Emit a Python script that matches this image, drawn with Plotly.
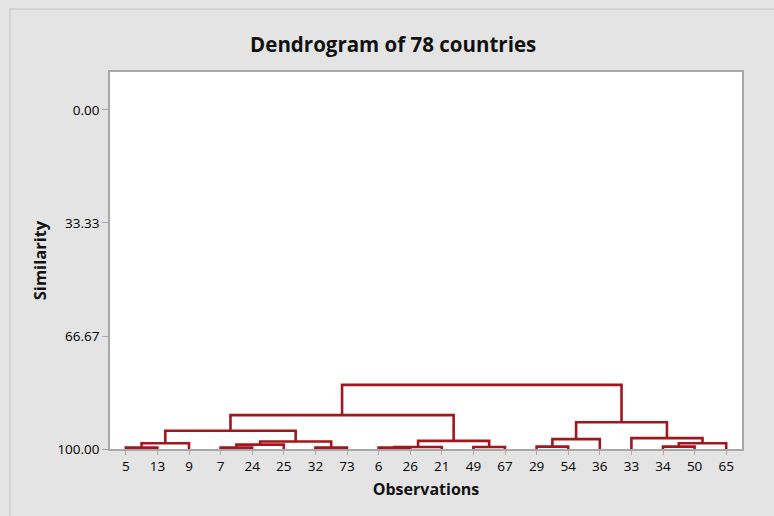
import plotly.graph_objects as go

# Leaves in display order (observation numbers)
leaves = [5, 13, 9, 7, 24, 25, 32, 73, 6, 26, 21, 49, 67, 29, 54, 36, 33, 34, 50, 65]

# Merge steps: (cluster_a, cluster_b, similarity); clusters are observation numbers
# or "cN" ids referring to the N-th merge result (0-based)
merge_a = [5, "c0", 7, "c2", 32, "c3", "c1", 6, "c7", 49, "c8", "c6", 29, "c12", 34, "c14", 33, "c13", "c11"]
merge_b = [13, 9, 24, 25, 73, "c4", "c5", 26, 21, 67, "c9", "c10", 54, 36, 50, 65, "c15", "c16", "c17"]
merge_sim = [99.6, 98.3, 99.6, 98.7, 99.6, 97.8, 94.6, 99.6, 99.4, 99.4, 97.6, 90.0,
             99.3, 97.1, 99.3, 98.3, 96.8, 92.1, 81.1]

y_ticks = [0.0, 33.33, 66.67, 100.0]
y_tick_labels = ["0.00", "33.33", "66.67", "100.00"]

line_color = "#A3161D"

pos = {}
height = {}
for i, leaf in enumerate(leaves):
    pos[leaf] = i
    height[leaf] = 100.0

xs, ys = [], []
for k, (a, b, s) in enumerate(zip(merge_a, merge_b, merge_sim)):
    xa, xb = pos[a], pos[b]
    ha, hb = height[a], height[b]
    xs += [xa, xa, xb, xb, None]
    ys += [ha, s, s, hb, None]
    cid = f"c{k}"
    pos[cid] = (xa + xb) / 2
    height[cid] = s

fig = go.Figure()
fig.add_trace(go.Scatter(x=xs, y=ys, mode="lines",
                         line=dict(color=line_color, width=2.6),
                         hoverinfo="skip", showlegend=False))

font_family = "Open Sans, Noto Sans, sans-serif"
fig.update_layout(
    width=774, height=516,
    margin=dict(l=110, r=32, t=72, b=67),
    paper_bgcolor="#E4E4E4",
    plot_bgcolor="#FFFFFF",
    font=dict(family=font_family, color="#000000", size=13),
    title=dict(text="<b>Dendrogram of 78 countries</b>", x=0.508, xanchor="center",
               y=0.913, yanchor="middle", font=dict(size=20.5, color="#111111")),
    xaxis=dict(
        range=[-0.5, len(leaves) - 0.5],
        tickmode="array", tickvals=list(range(len(leaves))),
        ticktext=[str(v) for v in leaves],
        showgrid=False, zeroline=False,
        showline=True, linecolor="#A8A8A8", linewidth=1.5, mirror=True,
        ticks="outside", ticklen=4, tickcolor="#A8A8A8",
        tickfont=dict(size=13.5, color="#000000"),
        title=dict(text="<b>Observations</b>", font=dict(size=16, color="#111111"), standoff=10),
    ),
    yaxis=dict(
        range=[100, -11.2],
        tickmode="array", tickvals=y_ticks, ticktext=y_tick_labels,
        showgrid=False, zeroline=False,
        showline=True, linecolor="#A8A8A8", linewidth=1.5, mirror=True,
        ticks="outside", ticklen=6, tickcolor="#A8A8A8",
        tickfont=dict(size=13.5, color="#000000"),
        title=dict(text="<b>Similarity</b>", font=dict(size=16.5, color="#111111"), standoff=7),
    ),
    shapes=[
        dict(type="line", xref="paper", yref="paper",
             x0=-0.1582, x1=1.2, y0=1.167, y1=1.167,
             line=dict(color="#CFCFCF", width=1.5)),
        dict(type="line", xref="paper", yref="paper",
             x0=-0.1582, x1=-0.1582, y0=1.167, y1=-0.3,
             line=dict(color="#CFCFCF", width=1.5)),
    ],
)

fig.write_html("out.html",
               config={"displayModeBar": False},
               post_script="document.body.style.margin='0';document.body.style.background='#E4E4E4';")
